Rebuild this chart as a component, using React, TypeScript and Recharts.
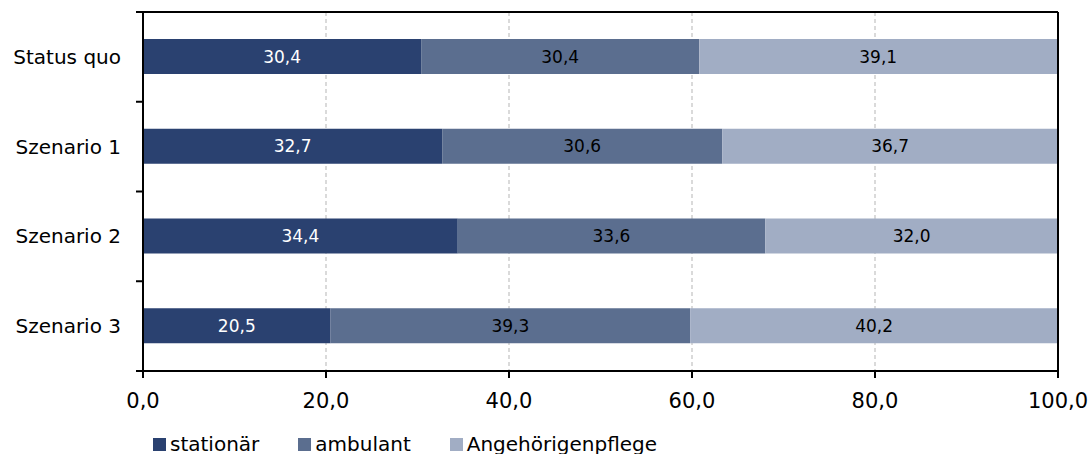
import React from 'react';
import { BarChart, Bar, XAxis, YAxis, CartesianGrid, LabelList, ReferenceLine } from 'recharts';

const categories = ['Status quo', 'Szenario 1', 'Szenario 2', 'Szenario 3'];
const stationaer = [30.4, 32.7, 34.4, 20.5];
const ambulant = [30.4, 30.6, 33.6, 39.3];
const angehoerige = [39.1, 36.7, 32.0, 40.2];
const seriesNames = ['stationär', 'ambulant', 'Angehörigenpflege'];
const xTicks = [0, 20, 40, 60, 80, 100];

const seriesKeys = ['s', 'a', 'g'];
const colors = ['#2a4170', '#5b6e8f', '#a1adc4'];
const labelColors = ['#ffffff', '#000000', '#000000'];

const data = categories.map((c, i) => ({
  name: c,
  s: stationaer[i],
  a: ambulant[i],
  g: angehoerige[i],
}));

const W = 1088;
const H = 454;
const MARGIN = { top: 12, right: 30, bottom: 23, left: 0 };
const Y_W = 143;
const X_H = 60;
const PLOT_H = H - MARGIN.top - MARGIN.bottom - X_H;
const PLOT_W = W - MARGIN.left - MARGIN.right - Y_W;
const BAND = PLOT_H / categories.length;
const AXIS_X = MARGIN.left + Y_W;
const FONT = '"DejaVu Sans", sans-serif';

const fmt = (v: any) => Number(v).toFixed(1).replace('.', ',');

const YTick = (props: any) => {
  const { y, payload } = props;
  const half = BAND / 2;
  const isFirst = payload.value === categories[0];
  const isLast = payload.value === categories[categories.length - 1];
  return (
    <g>
      <text x={AXIS_X - 22} y={y} dy="0.355em" textAnchor="end" fontSize={20} fill="#000" fontFamily={FONT}>
        {payload.value}
      </text>
      <line x1={AXIS_X - 7} x2={AXIS_X} y1={y - half} y2={y - half} stroke="#000" strokeWidth={2} />
      {isFirst && (
        <line x1={AXIS_X} x2={AXIS_X + PLOT_W} y1={y - half} y2={y - half} stroke="#000" strokeWidth={2} />
      )}
      {isLast && (
        <line x1={AXIS_X - 7} x2={AXIS_X} y1={y + half} y2={y + half} stroke="#000" strokeWidth={2} />
      )}
    </g>
  );
};

export default function App() {
  return (
    <div style={{ position: 'absolute', left: 0, top: 0, width: W, height: H, fontFamily: FONT, background: '#fff' }}>
      <BarChart width={W} height={H} data={data} layout="vertical" margin={MARGIN}>
        <CartesianGrid horizontal={false} vertical stroke="#b5b5b5" strokeDasharray="4 3" />
        <XAxis
          type="number"
          domain={[0, 100]}
          ticks={xTicks}
          tickFormatter={fmt}
          height={X_H}
          tickSize={7}
          tickMargin={15}
          axisLine={{ stroke: '#000', strokeWidth: 2 }}
          tickLine={{ stroke: '#000', strokeWidth: 2 }}
          tick={{ fontSize: 21, fill: '#000', fontFamily: FONT }}
          interval={0}
        />
        <YAxis
          type="category"
          dataKey="name"
          width={Y_W}
          tickLine={false}
          tickSize={6}
          tickMargin={16}
          axisLine={{ stroke: '#000', strokeWidth: 2 }}
          tick={<YTick />}
          interval={0}
        />
        {seriesKeys.map((k, i) => (
          <Bar key={k} dataKey={k} name={seriesNames[i]} stackId="1" fill={colors[i]} barSize={35} isAnimationActive={false}>
            <LabelList dataKey={k} position="center" fill={labelColors[i]} fontSize={17} fontFamily={FONT} formatter={fmt} />
          </Bar>
        ))}
        <ReferenceLine x={100} stroke="#000" strokeWidth={2} />
      </BarChart>
      <div
        style={{
          position: 'absolute',
          left: 153,
          top: 434,
          display: 'flex',
          alignItems: 'center',
          fontSize: 20,
          lineHeight: '20px',
          color: '#000',
          whiteSpace: 'nowrap',
        }}
      >
        {seriesNames.map((n, i) => (
          <div key={n} style={{ display: 'flex', alignItems: 'center', marginRight: 39 }}>
            <span style={{ display: 'inline-block', width: 13, height: 13, background: colors[i], marginRight: 4 }} />
            <span>{n}</span>
          </div>
        ))}
      </div>
    </div>
  );
}
